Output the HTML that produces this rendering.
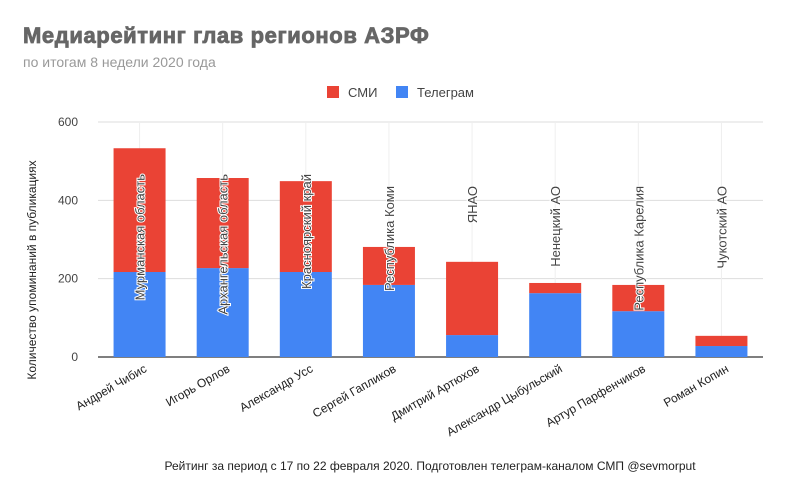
<!DOCTYPE html>
<html><head><meta charset="utf-8"><style>
body{margin:0;background:#fff;width:800px;height:496px;overflow:hidden}
svg text{font-family:"Liberation Sans",sans-serif}
</style></head><body>
<svg width="800" height="496">
<text x="23" y="43" font-size="22" font-weight="bold" fill="#666" stroke="#666" stroke-width="0.8" letter-spacing="0.6">Медиарейтинг глав регионов АЗРФ</text>
<text x="23" y="67" font-size="14" fill="#999">по итогам 8 недели 2020 года</text>
<g>
<rect x="327" y="86" width="12" height="12" fill="#ea4335"/>
<text x="348" y="97" font-size="13" fill="#444">СМИ</text>
<rect x="396" y="86" width="12" height="12" fill="#4285f4"/>
<text x="417" y="97" font-size="13" fill="#444">Телеграм</text>
</g>
<g id="grid"></g><g id="bars"></g><g id="labels"></g>
<text transform="translate(36,270) rotate(-90)" text-anchor="middle" font-size="12" fill="#222">Количество упоминаний в публикациях</text>
<text x="430" y="470" text-anchor="middle" font-size="12" fill="#222">Рейтинг за период с 17 по 22 февраля 2020. Подготовлен телеграм-каналом СМП @sevmorput</text>
</svg>
<script>
const categories=["Андрей Чибис","Игорь Орлов","Александр Усс","Сергей Гапликов","Дмитрий Артюхов","Александр Цыбульский","Артур Парфенчиков","Роман Копин"];
const regions=["Мурманская область","Архангельская область","Красноярский край","Республика Коми","ЯНАО","Ненецкий АО","Республика Карелия","Чукотский АО"];
const telegram=[217,227,217,184,56,163,117,28];
const smi=[316,230,232,97,187,26,67,26];
const yTicks=[0,200,400,600];
const NS="http://www.w3.org/2000/svg";
const x0=98,x1=763,y0=357,y1=122;
const y=v=>y0-(v/600)*(y0-y1);
const band=(x1-x0)/categories.length;
const xc=i=>x0+band*(i+0.5);
const bw=52;
function mk(t,a,p){const e=document.createElementNS(NS,t);for(const k in a)e.setAttribute(k,a[k]);p.appendChild(e);return e;}
const g=document.getElementById('grid'),b=document.getElementById('bars'),l=document.getElementById('labels');
yTicks.forEach(v=>{
 const ln=mk('line',{x1:x0,x2:x1,y1:y(v),y2:y(v),stroke:v===0?'#333':'#ddd','stroke-width':v===0?1.2:1},g);
 
 
 const t=mk('text',{x:x0-20,y:y(v)+4,'text-anchor':'end','font-size':12,fill:'#444'},g);
 t.textContent=v;
 
 
});
categories.forEach((c,i)=>{
 const vl=mk('line',{x1:xc(i),x2:xc(i),y1:y1,y2:y0,stroke:'#eee'},g);
 
 
 const tb=mk('rect',{x:xc(i)-bw/2,y:y(telegram[i]),width:bw,height:y0-y(telegram[i]),fill:'#4285f4'},b);
 
 
 const sb=mk('rect',{x:xc(i)-bw/2,y:y(telegram[i]+smi[i]),width:bw,height:y(telegram[i])-y(telegram[i]+smi[i]),fill:'#ea4335'},b);
 
 
 const ann=mk('text',{transform:`translate(${xc(i)+5},${i<3?174:186}) rotate(-90)`,'text-anchor':'end','font-size':13,fill:'#444',stroke:'#fff','stroke-width':2,'paint-order':'stroke'},l);
 ann.textContent=regions[i];
 
 
 const xl=mk('text',{transform:`translate(${xc(i)+8},${y0+14}) rotate(-30)`,'text-anchor':'end','font-size':12,fill:'#222'},l);
 xl.textContent=c;
 
 
});
</script>
</body></html>
